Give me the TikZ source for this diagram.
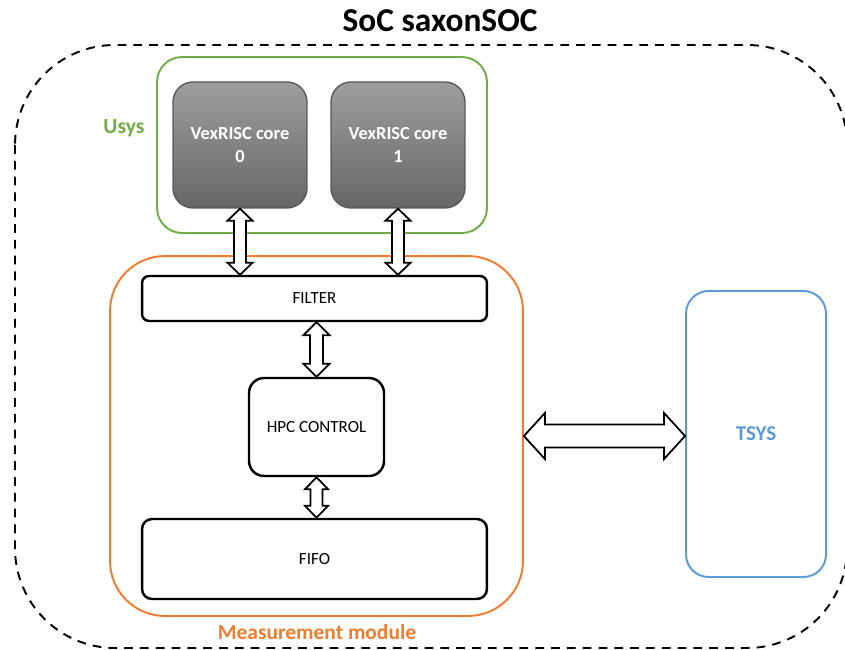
\documentclass[tikz,border=0pt]{standalone}
\usepackage{fontspec}
\setmainfont{Carlito}
\usetikzlibrary{calc}

\definecolor{usysgreen}{HTML}{70AD47}
\definecolor{mmorange}{HTML}{ED7D31}
\definecolor{tsysblue}{HTML}{5B9BD5}

% hollow double arrow between two tips: head length, half head width, half shaft width
\newcommand{\twoway}[5]{%
    \draw[linkarrow] (#1)
        -- ($(#1)!#3!(#2)!#4!90:(#2)$)
        -- ($(#1)!#3!(#2)!#5!90:(#2)$)
        -- ($(#2)!#3!(#1)!#5!-90:(#1)$)
        -- ($(#2)!#3!(#1)!#4!-90:(#1)$)
        -- (#2)
        -- ($(#2)!#3!(#1)!#4!90:(#1)$)
        -- ($(#2)!#3!(#1)!#5!90:(#1)$)
        -- ($(#1)!#3!(#2)!#5!-90:(#2)$)
        -- ($(#1)!#3!(#2)!#4!-90:(#2)$)
        -- cycle;
}

\begin{document}
\begin{tikzpicture}[x=0.02cm, y=-0.02cm,
        block/.style={draw, line width=1.4pt, fill=white},
        core/.style={draw=black!65, line width=0.8pt, top color=black!38, bottom color=black!60,
            rounded corners=0.4cm, minimum width=2.68cm, minimum height=2.52cm,
            text=white, align=center, font=\fontsize{10.5}{13}\selectfont\bfseries},
        linkarrow/.style={draw, line width=1pt, fill=white, line join=miter}]
    \useasboundingbox (0, 0) rectangle (845, 649);

    \node[font=\fontsize{19}{22}\selectfont\bfseries] (title) at (440, 21) {SoC saxonSOC};
    \draw[line width=1.1pt, dash pattern=on 5pt off 4pt, rounded corners=2cm] (15, 45) rectangle (847, 648);

    % Usys
    \node[draw=usysgreen, line width=1.1pt, rounded corners=0.5cm,
        minimum width=6.6cm, minimum height=3.52cm] (usys) at (322, 145) {};
    \node[text=usysgreen, font=\fontsize{12.3}{14}\selectfont\bfseries] (usyslabel) at (124, 128) {Usys};
    \node[core] (core0) at (240, 145) {VexRISC core\\0};
    \node[core] (core1) at (398, 145) {VexRISC core\\1};

    % measurement module
    \node[draw=mmorange, line width=1.1pt, rounded corners=1.1cm,
        minimum width=8.26cm, minimum height=7.2cm] (mm) at (316.5, 436) {};
    \node[text=mmorange, font=\fontsize{12.2}{14}\selectfont\bfseries] (mmlabel) at (317, 632) {Measurement module};
    \node[block, rounded corners=0.14cm, minimum width=6.9cm, minimum height=0.9cm,
        font=\fontsize{9.7}{11}\selectfont] (filter) at (314.5, 298.5) {FILTER};
    \node[block, rounded corners=0.3cm, minimum width=2.7cm, minimum height=1.96cm,
        font=\fontsize{9.7}{11}\selectfont] (hpc) at (316.5, 427) {HPC CONTROL};
    \node[block, rounded corners=0.2cm, minimum width=6.9cm, minimum height=1.6cm,
        font=\fontsize{9.7}{11}\selectfont] (fifo) at (314.5, 559) {FIFO};

    % TSYS
    \node[draw=tsysblue, line width=1.1pt, rounded corners=0.45cm,
        minimum width=2.8cm, minimum height=5.72cm, text=tsysblue,
        font=\fontsize{12}{14}\selectfont\bfseries] (tsys) at (756, 434) {TSYS};

    \twoway{core0.south}{filter.north -| core0.south}{0.24cm}{0.25cm}{0.12cm}
    \twoway{core1.south}{filter.north -| core1.south}{0.24cm}{0.25cm}{0.12cm}
    \twoway{filter.south -| hpc.north}{hpc.north}{0.26cm}{0.26cm}{0.13cm}
    \twoway{hpc.south}{fifo.north -| hpc.south}{0.24cm}{0.23cm}{0.12cm}
    \twoway{mm.east}{mm.east -| tsys.west}{0.42cm}{0.46cm}{0.23cm}
\end{tikzpicture}
\end{document}
